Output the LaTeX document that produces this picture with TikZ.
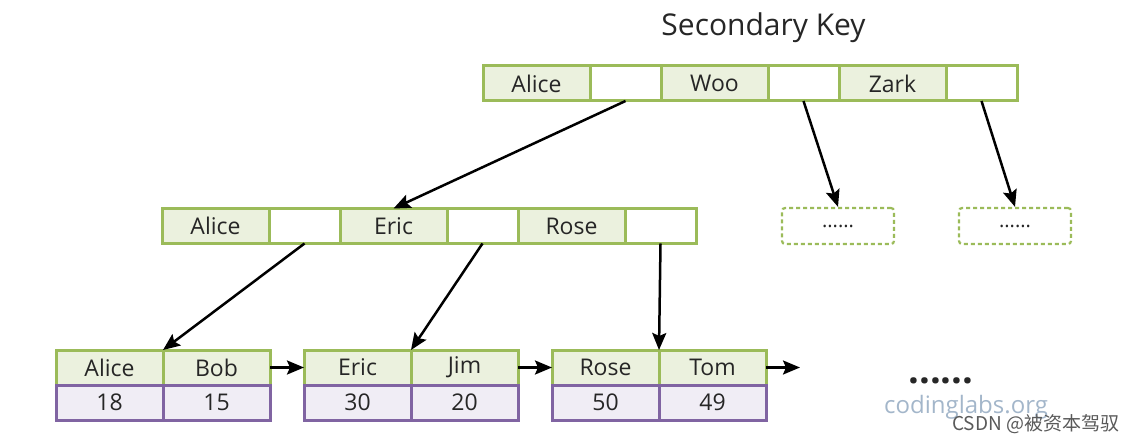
\documentclass[tikz,border=0pt]{standalone}
\usepackage{fontspec}
\setmainfont{Open Sans}
\newfontfamily\cjkfont{Noto Sans CJK SC}
\definecolor{cGreen}{HTML}{9BBB59}
\definecolor{cGreenFill}{HTML}{EBF1DE}
\definecolor{cPurple}{HTML}{8064A2}
\definecolor{cPurpleFill}{HTML}{F0EDF5}
\definecolor{cText}{HTML}{262626}
\definecolor{cMark}{HTML}{A3B6CA}
\usetikzlibrary{arrows.meta}
\usetikzlibrary{positioning}

\begin{document}
\begin{tikzpicture}[x=1pt, y=-1pt, node distance=0pt,
		keycell/.style={draw=cGreen, fill=cGreenFill, line width=3pt, minimum width=107pt, minimum height=35pt, inner sep=0pt, outer sep=0pt, text=cText, font=\fontsize{23}{27}\selectfont},
		ptrcell/.style={keycell, fill=white, minimum width=71pt},
		valcell/.style={keycell, draw=cPurple, fill=cPurpleFill},
		morebox/.style={draw=cGreen, line width=2.2pt, dash pattern=on 4pt off 3pt, rounded corners=3pt, minimum width=112pt, minimum height=36pt, inner sep=0pt, text=cText, font=\fontsize{20}{24}\selectfont},
		arr/.style={-{Stealth[length=17pt, width=14pt, inset=3pt]}, line width=2.5pt}]
		\useasboundingbox (0,0) rectangle (1139,438);
		\node[font=\fontsize{30}{36}\selectfont, text=cText] (title) at (763.5,28) {Secondary Key};
		% root
		\node[keycell] (t1) at (536.5,83.5) {Alice};
		\node[ptrcell, right=of t1] (t2) {};
		\node[keycell, right=of t2] (t3) {Woo};
		\node[ptrcell, right=of t3] (t4) {};
		\node[keycell, right=of t4] (t5) {Zark};
		\node[ptrcell, right=of t5] (t6) {};
		% inner node
		\node[keycell] (m1) at (215.5,226) {Alice};
		\node[ptrcell, right=of m1] (m2) {};
		\node[keycell, right=of m2] (m3) {Eric};
		\node[ptrcell, right=of m3] (m4) {};
		\node[keycell, right=of m4] (m5) {Rose};
		\node[ptrcell, right=of m5] (m6) {};
		\node[morebox] (d1) at (838,226) {......};
		\node[morebox] (d2) at (1015,226) {......};
		% leaves
		\foreach \i/\x/\ka/\kb/\va/\vb in {1/109.5/Alice/Bob/18/15, 2/357.5/Eric/Jim/30/20, 3/605.5/Rose/Tom/50/49} {
			\node[keycell] (l\i a) at (\x,367.5) {\ka};
			\node[keycell, right=of l\i a] (l\i b) {\kb};
			\node[valcell, below=of l\i a] (v\i a) {\va};
			\node[valcell, right=of v\i a] (v\i b) {\vb};
		}
		\coordinate (lend) at (800,367.5);
		\node[font=\bfseries\fontsize{38}{44}\selectfont, text=cText] (dots) at (941,381) {......};
		% arrows
		\draw[arr] (t2.south) -- (m3.north);
		\draw[arr] (t4.south) -- (d1.north);
		\draw[arr] (t6.south) -- (d2.north);
		\draw[arr] (m2.south) -- (l1a.north east);
		\draw[arr] (m4.south) -- (l2a.north east);
		\draw[arr] (m6.south) -- (l3a.north east);
		\draw[arr] (l1b.east) -- (l2a.west);
		\draw[arr] (l2b.east) -- (l3a.west);
		\draw[arr] (l3b.east) -- (lend);
		% watermarks
		\node[anchor=base west, inner sep=0pt, text=cMark, font=\fontsize{24}{28}\selectfont] (site) at (884,413) {codinglabs.org};
		\node[anchor=west, inner sep=0pt, text=black!65, font=\cjkfont\fontsize{19}{23}\selectfont] (csdn) at (952,424) {CSDN @被资本驾驭};
\end{tikzpicture}
\end{document}
